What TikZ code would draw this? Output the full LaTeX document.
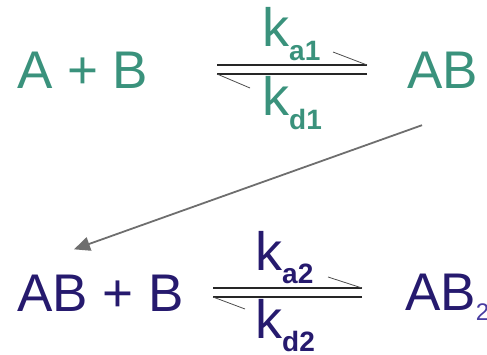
\documentclass[tikz,border=0pt]{standalone}
\usepackage{fontspec}
\setmainfont{Liberation Sans}
\usepackage{xcolor}
\usepackage{tikz}
\usetikzlibrary{arrows.meta}

\definecolor{stepone}{RGB}{58,146,124}
\definecolor{steptwo}{RGB}{38,26,110}
\definecolor{subtwo}{RGB}{72,60,160}
\definecolor{arrowgray}{RGB}{110,110,110}

% rate constant: k with bold subscript
\newcommand{\rconst}[1]{k\raisebox{-13.5pt}{\fontsize{28}{30}\selectfont\bfseries #1}}

\begin{document}
\begin{tikzpicture}[
    x=1pt, y=-1pt,
    spec/.style={anchor=base west, inner sep=0pt, font=\fontsize{53}{60}\selectfont},
    rate/.style={anchor=base west, inner sep=0pt, font=\fontsize{54}{60}\selectfont},
    rxn/.style={line width=1.3pt, draw=black!85},
    barb/.style={line width=0.8pt, draw=black!70},
    conv/.style={-{Triangle[length=16pt, width=14pt]}, line width=1.8pt, draw=arrowgray}
]
\useasboundingbox (0,0) rectangle (487,355);

% first step
\node[spec, text=stepone] (react1) at (17,89) {A + B};
\node[spec, text=stepone] (prod1) at (407,89) {AB};
\node[rate, text=stepone] (ka1) at (262,47) {\rconst{a1}};
\node[rate, text=stepone] (kd1) at (262,116) {\rconst{d1}};

\coordinate (fw1a) at (217,65);
\coordinate (fw1b) at (367,65);
\coordinate (bw1a) at (367,74);
\coordinate (bw1b) at (217,74);
\draw[rxn] (fw1a) -- (fw1b);
\draw[barb] (fw1b) -- ++(-34,-13);
\draw[rxn] (bw1a) -- (bw1b);
\draw[barb] (bw1b) -- ++(33,14);

% second step
\node[spec, text=steptwo] (react2) at (17,311) {AB + B};
\node[spec, text=steptwo] (prod2) at (405,310) {AB\raisebox{-10pt}{\fontsize{24}{26}\selectfont\color{subtwo}2}};
\node[rate, text=steptwo] (ka2) at (255,270) {\rconst{a2}};
\node[rate, text=steptwo] (kd2) at (255,338) {\rconst{d2}};

\coordinate (fw2a) at (213,288);
\coordinate (fw2b) at (362,288);
\coordinate (bw2a) at (362,297);
\coordinate (bw2b) at (213,297);
\draw[rxn] (fw2a) -- (fw2b);
\draw[barb] (fw2b) -- ++(-34,-11);
\draw[rxn] (bw2a) -- (bw2b);
\draw[barb] (bw2b) -- ++(32,12);

% AB goes on to the second step
\draw[conv] ([shift={(15,36)}]prod1.south west) -- ([shift={(57,-25)}]react2.north west);
\end{tikzpicture}
\end{document}
